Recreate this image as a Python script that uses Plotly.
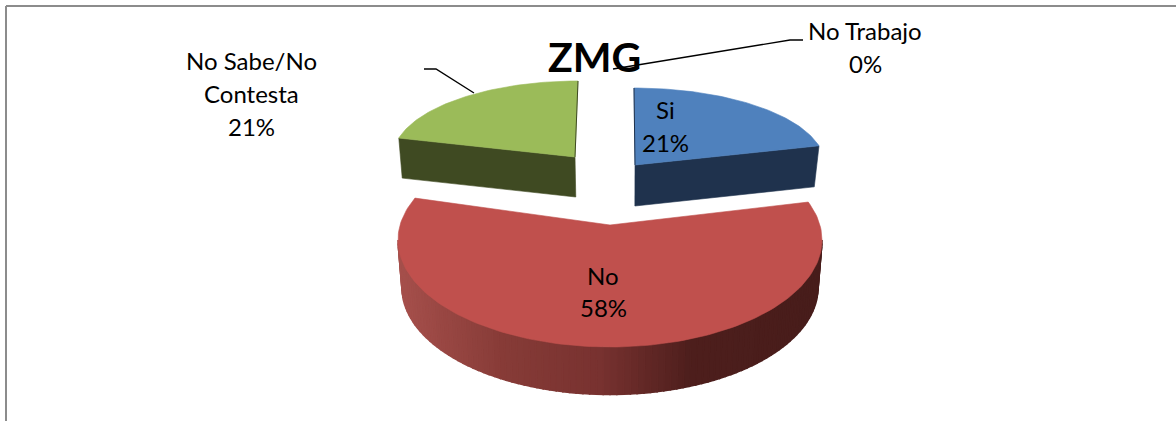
import math
import plotly.graph_objects as go

categories = ["Si", "No Trabajo", "No", "No Sabe/No Contesta"]
values = [21, 0, 58, 21]
title_text = "ZMG"

COL_TOP = {"Si": "#4F81BD", "No": "#C0504D", "No Sabe/No Contesta": "#9BBB59"}
COL_SIDE = {"Si": "#1F324D", "No Sabe/No Contesta": "#3F4A22"}
FONT = "Lato"

total = sum(values)
angles = {}
a0 = 0.0
for c, v in zip(categories, values):
    a1 = a0 + 360.0 * v / total
    angles[c] = (a0, a1)
    a0 = a1

fig = go.Figure()


def poly(xs, ys, color, width=0.6):
    fig.add_trace(go.Scatter(
        x=xs, y=ys, mode="lines", fill="toself", fillcolor=color,
        line=dict(color=color, width=width),
        hoverinfo="skip", showlegend=False))


def arange(a, b, n=60):
    return [a + (b - a) * i / n for i in range(n + 1)]


def back_slice(cat, apex, cx, cy, a, b, depth, shrink, axis_x):
    t0, t1 = angles[cat]
    th = arange(t0, t1)
    rx = [cx + a * math.sin(math.radians(t)) for t in th]
    ry = [cy - b * math.cos(math.radians(t)) for t in th]
    low = lambda x: axis_x + (x - axis_x) * shrink
    end_x, end_y = (rx[-1], ry[-1]) if t0 < 90 else (rx[0], ry[0])
    poly([apex[0], end_x, low(end_x), low(apex[0]), apex[0]],
         [apex[1], end_y, end_y + depth, apex[1] + depth, apex[1]],
         COL_SIDE[cat])
    px, py = [apex[0]] + rx, [apex[1]] + ry
    poly(px + [px[0]], py + [py[0]], COL_TOP[cat])
    ex, ey = (rx[0], ry[0]) if t0 < 90 else (rx[-1], ry[-1])
    fig.add_trace(go.Scatter(x=[apex[0], ex], y=[apex[1], ey], mode="lines",
                             line=dict(color=COL_SIDE[cat], width=1),
                             hoverinfo="skip", showlegend=False))


back_slice("No Sabe/No Contesta", (575, 157), 578, 157, 185, 76, 40, 0.985, 626)
back_slice("Si", (635, 165), 634, 165, 191, 77, 41, 0.975, 630)

rc = (610, 240)
ra, rb = 212, 107
low_a, depth = 208, 48
warp, skew = 1.072, 1.15
t0, t1 = angles["No"]


def phi(t):
    return 180 + (t - 180) * warp + skew


SHADE = [(398, (166, 80, 76)), (500, (136, 60, 56)), (600, (120, 50, 48)),
         (690, (78, 31, 29)), (823, (72, 29, 27))]


def shade(x):
    for (x0, c0), (x1, c1) in zip(SHADE, SHADE[1:]):
        if x <= x1:
            f = max(0, (x - x0) / (x1 - x0))
            return "rgb(%d,%d,%d)" % tuple(c0[i] + (c1[i] - c0[i]) * f for i in range(3))
    return "rgb(%d,%d,%d)" % SHADE[-1][1]


# Side wall painted from both outer ends toward the darkest overlap, so strips overlap cleanly
N = 96
for i in range(N):
    p0 = 90 + 180 * i / N
    p1 = 90 + 180 * (i + 1) / N
    ps = arange(p0, p1, 3)
    xt = [rc[0] + ra * math.sin(math.radians(p)) for p in ps]
    yt = [rc[1] - rb * math.cos(math.radians(p)) for p in ps]
    xb = [rc[0] + low_a * math.sin(math.radians(p)) for p in ps]
    yb = [rc[1] + depth - 0.5 - rb * math.cos(math.radians(p)) for p in ps]
    c = shade((xt[0] + xt[-1]) / 2)
    poly(xt + xb[::-1] + [xt[0]], yt + yb[::-1] + [yt[0]], c, width=1.6)

th = arange(t0, t1, 160)
rx = [rc[0] + ra * math.sin(math.radians(phi(t))) for t in th]
ry = [rc[1] - rb * math.cos(math.radians(phi(t))) for t in th]
apex_red = (610, 225)
poly([apex_red[0]] + rx + [apex_red[0]], [apex_red[1]] + ry + [apex_red[1]], COL_TOP["No"])

for lx, ly in [([474, 436, 424], [93, 69, 69]), ([613, 790, 803], [69, 40, 40])]:
    fig.add_trace(go.Scatter(x=lx, y=ly, mode="lines",
                             line=dict(color="#000000", width=1.4),
                             hoverinfo="skip", showlegend=False))

pct = {c: "%d%%" % round(100 * v / total) for c, v in zip(categories, values)}
labels = [
    ("No Trabajo", 865, 30), (pct["No Trabajo"], 865, 63),
    ("No Sabe/No", 251, 60), ("Contesta", 251, 93), (pct["No Sabe/No Contesta"], 251, 126),
    ("Si", 665, 109), (pct["Si"], 665, 142),
    ("No", 603, 275), (pct["No"], 603, 307),
]
ann = [dict(x=x, y=y, text=t, showarrow=False, xanchor="center", yanchor="middle",
            font=dict(family=FONT, size=24, color="#000000")) for t, x, y in labels]
ann.append(dict(x=594, y=56, text="<b>%s</b>" % title_text, showarrow=False,
                xanchor="center", yanchor="middle",
                font=dict(family=FONT, size=41, color="#000000", weight=900)))

border = dict(color="#8C8C8C", width=2)
shapes = [
    dict(type="line", xref="x", yref="y", x0=6, y0=6, x1=1176, y1=6, line=border),
    dict(type="line", xref="x", yref="y", x0=6, y0=6, x1=6, y1=421, line=border),
]

fig.update_layout(
    width=1176, height=421, margin=dict(l=0, r=0, t=0, b=0),
    paper_bgcolor="#FFFFFF", plot_bgcolor="#FFFFFF", showlegend=False,
    xaxis=dict(range=[0, 1176], visible=False, fixedrange=True),
    yaxis=dict(range=[421, 0], visible=False, fixedrange=True),
    annotations=ann, shapes=shapes,
)
fig.write_html("out.html", post_script="document.body.style.margin='0';",
               config=dict(displayModeBar=False))
